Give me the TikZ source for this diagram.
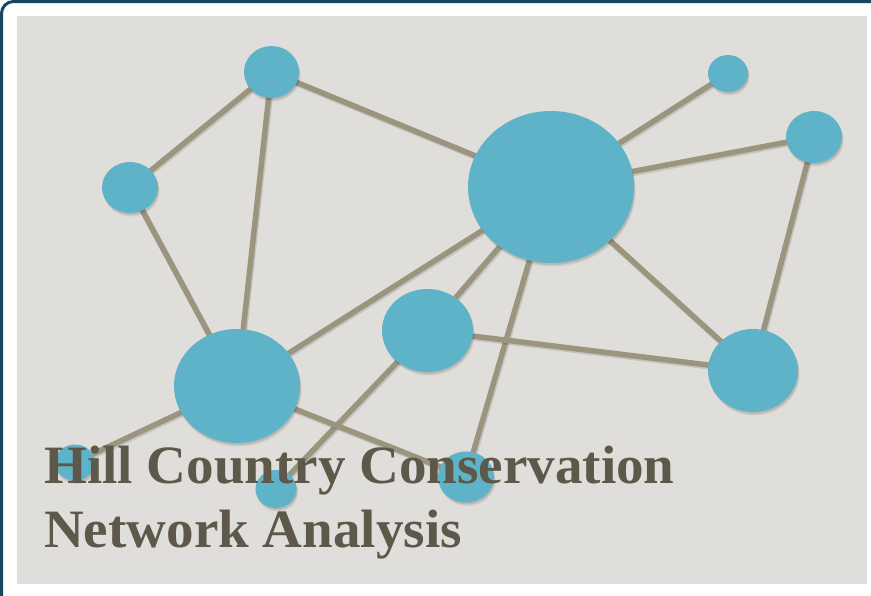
\documentclass[tikz,border=0pt]{standalone}
\usepackage{fontspec}
\setmainfont{Liberation Serif}
\newfontfamily\titlefont[FakeStretch=1.02]{Liberation Serif}
\usetikzlibrary{positioning,shapes.geometric}
\definecolor{frameblue}{HTML}{17465E}
\definecolor{panelgray}{HTML}{DFDEDA}
\definecolor{nodeblue}{HTML}{5FB3C8}
\definecolor{linktan}{HTML}{9B957F}
\definecolor{titlegray}{HTML}{5D584A}
\pgfdeclarelayer{back}
\pgfdeclarelayer{links}
\pgfsetlayers{back,links,main}

\begin{document}
\begin{tikzpicture}[
    x=1pt, y=-1pt,
    hub/.style={
		ellipse,
		fill=nodeblue,
		inner sep=0pt,
		preaction={fill=black, opacity=0.07, transform canvas={xshift=1.5pt, yshift=-3.5pt}},
		preaction={fill=black, opacity=0.10, transform canvas={xshift=1pt, yshift=-2pt}}
	},
	link/.style={
		draw=linktan,
		line width=5.5pt,
		preaction={draw=black, opacity=0.12, line width=6pt, transform canvas={xshift=1pt, yshift=-1.5pt}}
	},
	title/.style={
		anchor=base west,
		inner sep=0pt,
		text=titlegray,
		font=\titlefont\fontsize{54}{64}\selectfont\bfseries
	}
  ]
  \useasboundingbox (0,0) rectangle (871,595);

  % frame and panel
  \begin{pgfonlayer}{back}
  \clip (0,0) rectangle (871,595);
  \draw [frameblue, line width=3pt, fill=white, rounded corners=12pt] (1.5,1.5) rectangle (920,640);
  \fill [panelgray] (17,16) rectangle (867,584);
  \end{pgfonlayer}

  % the nodes
  \node [hub, minimum width=166pt, minimum height=152pt] (centre) at (551,187) {};
  \node [hub, minimum width=55pt, minimum height=52pt] (topleft) at (271.5,72) {};
  \node [hub, minimum width=56pt, minimum height=51pt] (farleft) at (130,187.5) {};
  \node [hub, minimum width=40pt, minimum height=37pt] (topright) at (728,73.5) {};
  \node [hub, minimum width=56pt, minimum height=52pt] (farright) at (814,137) {};
  \node [hub, minimum width=91pt, minimum height=83pt] (middle) at (427.5,330.5) {};
  \node [hub, minimum width=126pt, minimum height=114pt] (leftbig) at (237,386) {};
  \node [hub, minimum width=90pt, minimum height=83pt] (rightbig) at (753,370.5) {};
  \node [hub, minimum width=40pt, minimum height=36pt] (cornerleft) at (75,462.5) {};
  \node [hub, minimum width=41pt, minimum height=38pt] (lowsmall) at (276,489) {};
  \node [hub, minimum width=56pt, minimum height=51pt] (lowmid) at (466,477) {};

  % the links, behind the nodes
  \begin{pgfonlayer}{links}
  \draw [link] (topleft.center) -- (farleft.center);
  \draw [link] (topleft.center) -- (leftbig.center);
  \draw [link] (topleft.center) -- (centre.center);
  \draw [link] (farleft.center) -- (leftbig.center);
  \draw [link] (centre.center) -- (topright.center);
  \draw [link] (centre.center) -- (farright.center);
  \draw [link] (centre.center) -- (leftbig.center);
  \draw [link] (centre.center) -- (middle.center);
  \draw [link] (centre.center) -- (rightbig.center);
  \draw [link] (centre.center) -- (lowmid.center);
  \draw [link] (farright.center) -- (rightbig.center);
  \draw [link] (middle.center) -- (rightbig.center);
  \draw [link] (middle.center) -- (lowsmall.center);
  \draw [link] (leftbig.center) -- (cornerleft.center);
  \draw [link] (leftbig.center) -- (lowmid.center);
  \end{pgfonlayer}

  % title
  \node [title] (line1) at (44,483) {Hill Country Conservation};
  \node [title] (line2) at (44,547) {Network Analysis};
\end{tikzpicture}
\end{document}
